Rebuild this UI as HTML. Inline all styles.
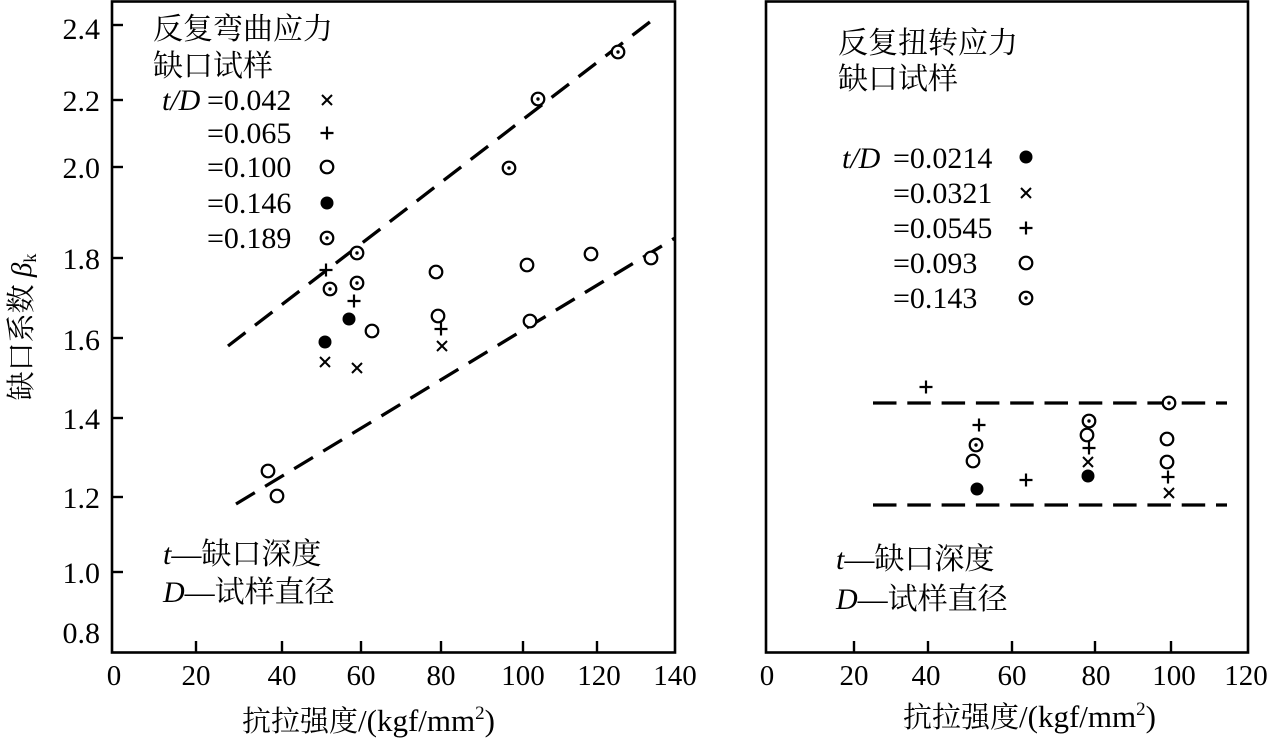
<!DOCTYPE html>
<html>
<head>
<meta charset="utf-8">
<style>
  html,body{margin:0;padding:0;background:#fff;}
  svg{display:block;}
  text{font-family:"Liberation Serif","Noto Serif CJK SC",serif;fill:#000;}
  .cjk{font-family:"Liberation Serif","Noto Serif CJK SC","Noto Sans CJK SC",serif;}
</style>
</head>
<body>
<svg width="1267" height="739" viewBox="0 0 1267 739" xmlns="http://www.w3.org/2000/svg">
  <defs>
    <g id="o"><circle cx="0" cy="0" r="6.3" fill="#fff" stroke="#000" stroke-width="2.2"/></g>
    <g id="od"><circle cx="0" cy="0" r="6.3" fill="#fff" stroke="#000" stroke-width="2.2"/><circle cx="0" cy="0" r="1.7" fill="#000"/></g>
    <g id="f"><circle cx="0" cy="0" r="6.5" fill="#000"/></g>
    <g id="p"><path d="M-6.5 0H6.5M0 -6.5V6.5" stroke="#000" stroke-width="2.2" fill="none"/></g>
    <g id="x"><path d="M-5 -5L5 5M-5 5L5 -5" stroke="#000" stroke-width="2" fill="none"/></g>
  </defs>
  <rect x="0" y="0" width="1267" height="739" fill="#fff"/>

  <!-- ================= LEFT PLOT ================= -->
  <rect x="112" y="1.5" width="563" height="651" fill="none" stroke="#000" stroke-width="2.6"/>
  <!-- y ticks -->
  <g stroke="#000" stroke-width="2.4">
    <line x1="112" y1="25" x2="123" y2="25"/>
    <line x1="112" y1="100" x2="123" y2="100"/>
    <line x1="112" y1="167" x2="123" y2="167"/>
    <line x1="112" y1="258" x2="123" y2="258"/>
    <line x1="112" y1="338" x2="123" y2="338"/>
    <line x1="112" y1="418" x2="123" y2="418"/>
    <line x1="112" y1="497" x2="123" y2="497"/>
    <line x1="112" y1="572" x2="123" y2="572"/>
    <!-- x ticks -->
    <line x1="196" y1="652" x2="196" y2="641"/>
    <line x1="282" y1="652" x2="282" y2="641"/>
    <line x1="361" y1="652" x2="361" y2="641"/>
    <line x1="441" y1="652" x2="441" y2="641"/>
    <line x1="523" y1="652" x2="523" y2="641"/>
    <line x1="597" y1="652" x2="597" y2="641"/>
  </g>
  <g font-size="30" text-anchor="end">
    <text x="100" y="39">2.4</text>
    <text x="100" y="111">2.2</text>
    <text x="100" y="178">2.0</text>
    <text x="100" y="269">1.8</text>
    <text x="100" y="350">1.6</text>
    <text x="100" y="429">1.4</text>
    <text x="100" y="508">1.2</text>
    <text x="100" y="583">1.0</text>
    <text x="100" y="643">0.8</text>
  </g>
  <g font-size="29" text-anchor="middle">
    <text x="114" y="685">0</text>
    <text x="196" y="685">20</text>
    <text x="282" y="685">40</text>
    <text x="361" y="685">60</text>
    <text x="441" y="685">80</text>
    <text x="523" y="685">100</text>
    <text x="599" y="685">120</text>
    <text x="675" y="685">140</text>
  </g>
  <text x="242" y="731" font-size="29" class="cjk">抗拉强度<tspan font-size="31">/(kgf/mm</tspan><tspan font-size="19" dy="-12">2</tspan><tspan font-size="31" dy="12">)</tspan></text>

  <!-- y axis title -->
  <text transform="translate(31,327) rotate(-90)" x="0" y="0" font-size="29" text-anchor="middle" class="cjk">缺口系数 <tspan font-style="italic">β</tspan><tspan font-size="18" dy="5">k</tspan></text>

  <!-- legend left -->
  <text x="153" y="39" font-size="30" class="cjk">反复弯曲应力</text>
  <text x="153" y="76" font-size="30" class="cjk">缺口试样</text>
  <g font-size="30">
    <text x="162" y="110" font-style="italic">t/D</text>
    <text x="207" y="110">=0.042</text>
    <text x="207" y="143">=0.065</text>
    <text x="207" y="177">=0.100</text>
    <text x="207" y="213">=0.146</text>
    <text x="207" y="248">=0.189</text>
  </g>
  <use href="#x" x="327" y="100"/>
  <use href="#p" x="327" y="133"/>
  <use href="#o" x="327" y="167"/>
  <use href="#f" x="327" y="203"/>
  <use href="#od" x="327" y="238"/>

  <!-- dashed lines left -->
  <g stroke="#000" stroke-width="3.3" stroke-dasharray="22 12" fill="none">
    <line x1="228" y1="346" x2="655" y2="18"/>
    <line x1="236" y1="504" x2="675" y2="238"/>
  </g>

  <!-- data left -->
  <use href="#od" x="357" y="253"/>
  <use href="#od" x="330" y="289"/>
  <use href="#od" x="357" y="283"/>
  <use href="#od" x="509" y="168"/>
  <use href="#od" x="538" y="99"/>
  <use href="#od" x="618" y="52"/>
  <use href="#p" x="326" y="270"/>
  <use href="#p" x="354" y="301"/>
  <use href="#p" x="441" y="329"/>
  <use href="#f" x="349" y="319"/>
  <use href="#f" x="325" y="342"/>
  <use href="#o" x="372" y="331"/>
  <use href="#o" x="436" y="272"/>
  <use href="#o" x="438" y="316"/>
  <use href="#o" x="527" y="265"/>
  <use href="#o" x="591" y="254"/>
  <use href="#o" x="651" y="258"/>
  <use href="#o" x="530" y="321"/>
  <use href="#o" x="268" y="471"/>
  <use href="#o" x="277" y="496"/>
  <use href="#x" x="325" y="362"/>
  <use href="#x" x="357" y="368"/>
  <use href="#x" x="442" y="346"/>

  <!-- bottom note left -->
  <text x="163" y="564" font-size="30" class="cjk"><tspan font-style="italic">t</tspan>—缺口深度</text>
  <text x="163" y="602" font-size="30" class="cjk"><tspan font-style="italic">D</tspan>—试样直径</text>

  <!-- ================= RIGHT PLOT ================= -->
  <rect x="766" y="1.5" width="482" height="651" fill="none" stroke="#000" stroke-width="2.6"/>
  <g stroke="#000" stroke-width="2.4">
    <line x1="854" y1="652" x2="854" y2="641"/>
    <line x1="928" y1="652" x2="928" y2="641"/>
    <line x1="1012" y1="652" x2="1012" y2="641"/>
    <line x1="1095" y1="652" x2="1095" y2="641"/>
    <line x1="1171" y1="652" x2="1171" y2="641"/>
  </g>
  <g font-size="29" text-anchor="middle">
    <text x="767" y="685">0</text>
    <text x="854" y="685">20</text>
    <text x="926" y="685">40</text>
    <text x="1012" y="685">60</text>
    <text x="1096" y="685">80</text>
    <text x="1174" y="685">100</text>
    <text x="1246" y="685">120</text>
  </g>
  <text x="903" y="727" font-size="29" class="cjk">抗拉强度<tspan font-size="31">/(kgf/mm</tspan><tspan font-size="19" dy="-12">2</tspan><tspan font-size="31" dy="12">)</tspan></text>

  <!-- legend right -->
  <text x="838" y="53" font-size="30" class="cjk">反复扭转应力</text>
  <text x="838" y="89" font-size="30" class="cjk">缺口试样</text>
  <g font-size="30">
    <text x="842" y="168" font-style="italic">t/D</text>
    <text x="893" y="168">=0.0214</text>
    <text x="893" y="203">=0.0321</text>
    <text x="893" y="238">=0.0545</text>
    <text x="893" y="273">=0.093</text>
    <text x="893" y="308">=0.143</text>
  </g>
  <use href="#f" x="1026" y="157"/>
  <use href="#x" x="1026" y="193"/>
  <use href="#p" x="1026" y="228"/>
  <use href="#o" x="1026" y="263"/>
  <use href="#od" x="1026" y="298"/>

  <!-- dashed lines right -->
  <g stroke="#000" stroke-width="3.3" stroke-dasharray="23.5 10.8" fill="none">
    <line x1="873" y1="403" x2="1227" y2="403"/>
    <line x1="873" y1="505" x2="1227" y2="505"/>
  </g>

  <!-- data right -->
  <use href="#p" x="926" y="387"/>
  <use href="#p" x="979" y="425"/>
  <use href="#p" x="1026" y="480"/>
  <use href="#p" x="1089" y="448"/>
  <use href="#p" x="1168" y="477"/>
  <use href="#od" x="976" y="445"/>
  <use href="#od" x="1089" y="421"/>
  <use href="#od" x="1169" y="403"/>
  <use href="#o" x="973" y="461"/>
  <use href="#o" x="1087" y="435"/>
  <use href="#o" x="1167" y="439"/>
  <use href="#o" x="1167" y="462"/>
  <use href="#f" x="977" y="489"/>
  <use href="#f" x="1088" y="476"/>
  <use href="#x" x="1088" y="462"/>
  <use href="#x" x="1169" y="493"/>

  <!-- bottom note right -->
  <text x="836" y="569" font-size="30" class="cjk"><tspan font-style="italic">t</tspan>—缺口深度</text>
  <text x="836" y="609" font-size="30" class="cjk"><tspan font-style="italic">D</tspan>—试样直径</text>
</svg>
</body>
</html>
